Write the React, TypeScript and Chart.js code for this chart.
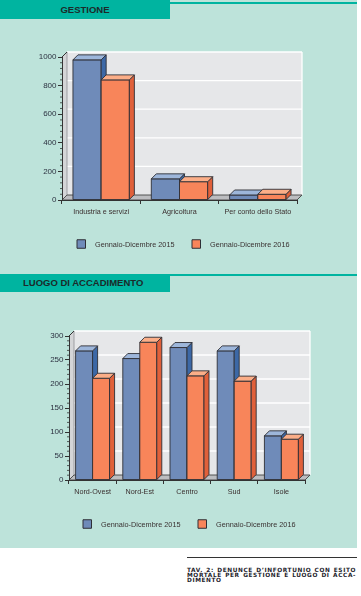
import React, { useEffect, useRef } from "react";
import { Chart, registerables } from "chart.js";

Chart.register(...registerables);

// ---------- data ----------
const seriesLabels = ["Gennaio-Dicembre 2015", "Gennaio-Dicembre 2016"];

const gestioneCategories = ["Industria e servizi", "Agricoltura", "Per conto dello Stato"];
const gestione2015 = [980, 148, 35];
const gestione2016 = [840, 128, 40];
const gestioneTicks = [0, 200, 400, 600, 800, 1000];

const luogoCategories = ["Nord-Ovest", "Nord-Est", "Centro", "Sud", "Isole"];
const luogo2015 = [269, 253, 276, 269, 92];
const luogo2016 = [212, 287, 217, 206, 85];
const luogoTicks = [0, 50, 100, 150, 200, 250, 300];

// ---------- styles ----------
const FONT = '"Liberation Sans", Arial, sans-serif';
const MINT = "#bde3da";
const TEAL = "#00b4a0";
const PALETTE = [
  { front: "#6f8bb9", side: "#3c68a6", top: "#9db6da" },
  { front: "#f8855a", side: "#e0603a", top: "#fbae88" },
];

const bar3dPlugin = {
  id: "bar3d",
  beforeDraw(chart: any, _args: any, opts: any) {
    const { ctx, chartArea: a, scales } = chart;
    const { dx, dy } = opts;
    const ys = scales.y;
    ctx.save();
    // back wall
    ctx.fillStyle = "#e6e7e9";
    ctx.fillRect(a.left + dx, a.top - dy, a.right - a.left, a.bottom - a.top);
    // gridlines on back wall
    ctx.strokeStyle = "#ffffff";
    ctx.lineWidth = 1.3;
    ys.ticks.forEach((t: any) => {
      if (t.value === ys.min) return;
      const py = ys.getPixelForValue(t.value) - dy;
      ctx.beginPath();
      ctx.moveTo(a.left + dx, py);
      ctx.lineTo(a.right + dx, py);
      ctx.stroke();
    });
    ctx.beginPath();
    ctx.moveTo(a.right + dx, a.top - dy);
    ctx.lineTo(a.right + dx, a.bottom - dy);
    ctx.stroke();
    // left wall
    ctx.fillStyle = "#d4d5d7";
    ctx.beginPath();
    ctx.moveTo(a.left, a.top);
    ctx.lineTo(a.left + dx, a.top - dy);
    ctx.lineTo(a.left + dx, a.bottom - dy);
    ctx.lineTo(a.left, a.bottom);
    ctx.closePath();
    ctx.fill();
    ctx.strokeStyle = "#8d8f93";
    ctx.lineWidth = 0.8;
    ctx.beginPath();
    ctx.moveTo(a.left + dx, a.top - dy);
    ctx.lineTo(a.left + dx, a.bottom - dy);
    ctx.stroke();
    ctx.strokeStyle = "#333";
    ctx.lineWidth = 1;
    ctx.beginPath();
    ctx.moveTo(a.left, a.top);
    ctx.lineTo(a.left + dx, a.top - dy);
    ctx.stroke();
    // floor
    ctx.fillStyle = "#bcbdc0";
    ctx.strokeStyle = "#444";
    ctx.lineWidth = 0.9;
    ctx.beginPath();
    ctx.moveTo(a.left, a.bottom);
    ctx.lineTo(a.left + dx, a.bottom - dy);
    ctx.lineTo(a.right + dx, a.bottom - dy);
    ctx.lineTo(a.right, a.bottom);
    ctx.closePath();
    ctx.fill();
    ctx.stroke();
    ctx.restore();
  },
  afterDatasetsDraw(chart: any, _args: any, opts: any) {
    const { ctx, chartArea: a, scales } = chart;
    const { dx, dy } = opts;
    const ys = scales.y;
    const metas = chart.getSortedVisibleDatasetMetas();
    const n = chart.data.labels.length;
    ctx.save();
    ctx.lineJoin = "round";
    ctx.strokeStyle = "#2e2f36";
    ctx.lineWidth = 0.9;
    for (let i = 0; i < n; i++) {
      metas.forEach((meta: any) => {
        const el = meta.data[i];
        if (!el) return;
        const { x, y, base, width } = el.getProps(["x", "y", "base", "width"], true);
        const pal = PALETTE[meta.index % PALETTE.length];
        const l = x - width / 2;
        const r = x + width / 2;
        // front
        ctx.fillStyle = pal.front;
        ctx.beginPath();
        ctx.rect(l, y, r - l, base - y);
        ctx.fill();
        ctx.stroke();
        // side
        ctx.fillStyle = pal.side;
        ctx.beginPath();
        ctx.moveTo(r, y);
        ctx.lineTo(r + dx, y - dy);
        ctx.lineTo(r + dx, base - dy);
        ctx.lineTo(r, base);
        ctx.closePath();
        ctx.fill();
        ctx.stroke();
        // top
        ctx.fillStyle = pal.top;
        ctx.beginPath();
        ctx.moveTo(l, y);
        ctx.lineTo(l + dx, y - dy);
        ctx.lineTo(r + dx, y - dy);
        ctx.lineTo(r, y);
        ctx.closePath();
        ctx.fill();
        ctx.stroke();
      });
    }
    // minor ticks on y axis
    const step = (ys.ticks[1]?.value ?? 1) - (ys.ticks[0]?.value ?? 0);
    ctx.strokeStyle = "#333";
    ctx.lineWidth = 0.8;
    for (let k = 0; k < ys.ticks.length - 1; k++) {
      for (let m = 1; m < 5; m++) {
        const v = ys.ticks[k].value + (step * m) / 5;
        const py = ys.getPixelForValue(v);
        ctx.beginPath();
        ctx.moveTo(a.left - 2, py);
        ctx.lineTo(a.left, py);
        ctx.stroke();
      }
    }
    // legend
    const lg = opts.legend;
    ctx.font = `7.3px ${FONT}`;
    ctx.textBaseline = "middle";
    ctx.textAlign = "left";
    chart.data.datasets.forEach((ds: any, di: number) => {
      const bx = lg.x[di];
      ctx.fillStyle = PALETTE[di].front;
      ctx.strokeStyle = "#2e2f36";
      ctx.lineWidth = 1;
      ctx.fillRect(bx, lg.y - 4.25, 8.5, 8.5);
      ctx.strokeRect(bx, lg.y - 4.25, 8.5, 8.5);
      ctx.fillStyle = "#3a3232";
      ctx.fillText(ds.label, bx + 18, lg.y + 0.5);
    });
    ctx.restore();
  },
};

type Geo = {
  top: number;
  height: number;
  padding: { left: number; right: number; top: number; bottom: number };
  legend: { x: number[]; y: number };
};

function Bar3D({
  categories,
  a,
  b,
  ticks,
  geo,
}: {
  categories: string[];
  a: number[];
  b: number[];
  ticks: number[];
  geo: Geo;
}) {
  const ref = useRef<HTMLCanvasElement>(null);
  useEffect(() => {
    if (!ref.current) return;
    const chart = new Chart(ref.current, {
      type: "bar",
      data: {
        labels: categories,
        datasets: [
          { label: seriesLabels[0], data: a, backgroundColor: "rgba(0,0,0,0)", borderWidth: 0 },
          { label: seriesLabels[1], data: b, backgroundColor: "rgba(0,0,0,0)", borderWidth: 0 },
        ],
      },
      options: {
        animation: false,
        responsive: false,
        devicePixelRatio: 1,
        events: [],
        layout: { padding: geo.padding },
        datasets: { bar: { categoryPercentage: 0.72, barPercentage: 1 } },
        plugins: {
          legend: { display: false },
          tooltip: { enabled: false },
          bar3d: { dx: 5, dy: 5, legend: geo.legend },
        } as any,
        scales: {
          x: {
            offset: true,
            grid: {
              display: true,
              offset: true,
              drawOnChartArea: false,
              drawTicks: true,
              tickLength: 4,
              color: "#333",
            },
            border: { display: true, color: "#333", width: 1 },
            ticks: {
              autoSkip: false,
              maxRotation: 0,
              padding: 4,
              color: "#3a2e2e",
              font: { family: FONT, size: 7.2 },
            },
            afterFit: (s: any) => {
              s.height = 20;
            },
          },
          y: {
            min: ticks[0],
            max: ticks[ticks.length - 1],
            ticks: {
              stepSize: ticks[1] - ticks[0],
              padding: 1.5,
              color: "#2c3140",
              font: { family: FONT, size: 8 },
              callback: (v: any) => String(v),
            },
            grid: { drawOnChartArea: false, drawTicks: true, tickLength: 4, color: "#333" },
            border: { display: true, color: "#333", width: 1 },
            afterFit: (s: any) => {
              s.width = 30;
            },
          },
        },
      } as any,
      plugins: [bar3dPlugin],
    });
    return () => chart.destroy();
  }, []);
  return (
    <canvas
      ref={ref}
      width={361}
      height={geo.height}
      style={{ position: "absolute", left: 0, top: geo.top, width: 361, height: geo.height }}
    />
  );
}

const headerText: React.CSSProperties = {
  fontFamily: FONT,
  fontWeight: 700,
  fontSize: 9.5,
  color: "#1c2a2a",
  lineHeight: "18px",
  whiteSpace: "nowrap",
};

const captionLine: React.CSSProperties = {
  height: 5,
  lineHeight: "5px",
  textAlign: "justify",
  textAlignLast: "justify" as any,
  whiteSpace: "nowrap",
  overflow: "visible",
};

export default function App() {
  return (
    <div
      style={{
        position: "absolute",
        left: 0,
        top: 0,
        width: 361,
        height: 596,
        background: "#ffffff",
        overflow: "hidden",
      }}
    >
      <div style={{ position: "absolute", left: 0, top: 0, width: 357, height: 548, background: MINT }} />
      {/* header 1 */}
      <div style={{ position: "absolute", left: 0, top: 0, width: 170, height: 19, background: TEAL }}>
        <div style={{ ...headerText, textAlign: "center", lineHeight: "19px" }}>GESTIONE</div>
      </div>
      <div style={{ position: "absolute", left: 170, top: 2, width: 187, height: 1.5, background: TEAL }} />
      <Bar3D
        categories={gestioneCategories}
        a={gestione2015}
        b={gestione2016}
        ticks={gestioneTicks}
        geo={{
          top: 30,
          height: 230,
          padding: { left: 32, right: 64, top: 27, bottom: 40 },
          legend: { x: [77, 192], y: 214 },
        }}
      />
      {/* header 2 */}
      <div style={{ position: "absolute", left: 0, top: 274, width: 170, height: 18, background: TEAL }}>
        <div style={{ ...headerText, paddingLeft: 23 }}>LUOGO DI ACCADIMENTO</div>
      </div>
      <div style={{ position: "absolute", left: 170, top: 274, width: 187, height: 2, background: TEAL }} />
      <Bar3D
        categories={luogoCategories}
        a={luogo2015}
        b={luogo2016}
        ticks={luogoTicks}
        geo={{
          top: 300,
          height: 250,
          padding: { left: 39, right: 56, top: 36, bottom: 50 },
          legend: { x: [83, 198], y: 224 },
        }}
      />
      {/* caption */}
      <div style={{ position: "absolute", left: 187, top: 557, width: 170, height: 1, background: "#333" }} />
      <div
        style={{
          position: "absolute",
          left: 187,
          top: 567.5,
          width: 169,
          fontFamily: '"DejaVu Sans", sans-serif',
          fontWeight: 700,
          fontSize: 5.8,
          letterSpacing: 0.6,
          color: "#1d1d2b",
        }}
      >
        <div style={captionLine}>TAV. 2: DENUNCE D’INFORTUNIO CON ESITO</div>
        <div style={captionLine}>MORTALE PER GESTIONE E LUOGO DI ACCA-</div>
        <div style={{ ...captionLine, textAlignLast: "left" as any }}>DIMENTO</div>
      </div>
    </div>
  );
}
